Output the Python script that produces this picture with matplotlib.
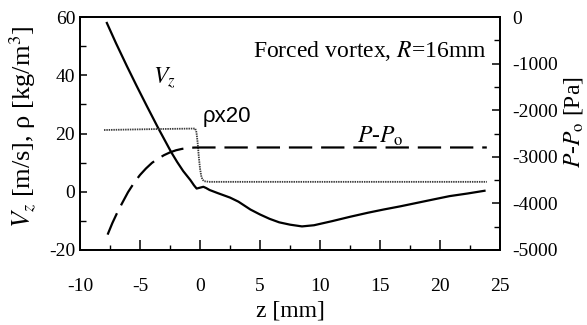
import matplotlib
matplotlib.use("Agg")
import matplotlib.pyplot as plt
from matplotlib.ticker import MultipleLocator

plt.rcParams['font.family'] = ['Liberation Serif', 'DejaVu Serif']
plt.rcParams['mathtext.fontset'] = 'stix'
plt.rcParams['axes.unicode_minus'] = False

# ---- data ----
z_vz = [-7.8, -7.0, -6.1, -5.3, -4.44, -3.5, -2.4, -1.9, -1.4, -0.8, -0.5, -0.28,
        0.0, 0.28, 0.5, 0.8, 1.5, 2.5, 3.2, 4.2, 5.0, 5.8, 6.6, 7.5, 8.5, 9.5,
        11.0, 12.5, 14.0, 15.3, 16.7, 18.1, 19.5, 20.8, 22.3, 23.8]
vz = [58.3, 51.0, 43.2, 36.5, 29.5, 22.0, 13.6, 10.2, 7.1, 4.0, 2.2, 1.1,
      1.4, 1.7, 1.3, 0.6, -0.5, -2.0, -3.4, -6.1, -7.8, -9.3, -10.5, -11.3, -11.9, -11.5,
      -10.1, -8.6, -7.2, -6.1, -5.0, -3.8, -2.6, -1.5, -0.6, 0.4]

z_rho = [-8.0, -4.0, -0.4, -0.3, -0.2, -0.1, 0.0, 0.1, 0.2, 0.35, 0.8, 23.9]
rho20 = [21.2, 21.5, 21.7, 20.5, 17.0, 12.0, 8.0, 5.5, 4.2, 3.6, 3.4, 3.4]

z_p = [-7.7, -7.3, -6.9, -6.5, -6.0, -5.5, -5.0, -4.5, -4.0, -3.5, -3.0, -2.5,
       -2.0, -1.5, -1.0, -0.5, 0.0, 23.9]
p = [-4670, -4420, -4200, -4000, -3760, -3560, -3390, -3250, -3130, -3040, -2965, -2905,
     -2860, -2830, -2812, -2802, -2800, -2800]

xticks = [-10, -5, 0, 5, 10, 15, 20, 25]
yticks_left = [-20, 0, 20, 40, 60]
yticks_right = [-5000, -4000, -3000, -2000, -1000, 0]

fig = plt.figure(figsize=(5.87, 3.25), dpi=100)
ax = fig.add_axes([80/587, 1-250/325, 420/587, 233/325])
ax2 = ax.twinx()

ax.plot(z_vz, vz, color='black', lw=1.6, solid_capstyle='butt')
ax.plot(z_rho, rho20, color='#3a3a3a', lw=1.3, linestyle=(0, (0.8, 0.5)))
ax2.plot(z_p, p, color='black', lw=1.6, linestyle=(0, (10.5, 4.0)))

ax.set_xlim(-10, 25)
ax.set_ylim(-20, 60)
ax2.set_ylim(-5000, 0)
ax.set_xticks(xticks)
ax.set_yticks(yticks_left)
ax2.set_yticks(yticks_right)
ax.xaxis.set_minor_locator(MultipleLocator(2.5))
ax.yaxis.set_minor_locator(MultipleLocator(10))
ax2.yaxis.set_minor_locator(MultipleLocator(500))

for a in (ax, ax2):
    for s in a.spines.values():
        s.set_linewidth(1.3)
ax.tick_params(axis='x', which='both', direction='in', top=False, labelsize=14, pad=20)
ax.tick_params(axis='x', which='major', length=7, width=1.1)
ax.tick_params(axis='x', which='minor', length=3.5, width=1.0)
ax.tick_params(axis='y', which='both', direction='in', right=False, labelsize=14, pad=3.5)
ax.tick_params(axis='y', which='major', length=5, width=1.1)
ax.tick_params(axis='y', which='minor', length=4, width=1.0)
ax2.tick_params(axis='y', which='both', direction='in', labelsize=14, pad=9)
ax2.tick_params(axis='y', which='major', length=6, width=1.1)
ax2.tick_params(axis='y', which='minor', length=4, width=1.0)

ax.set_xlabel('z [mm]', fontsize=17, labelpad=4)
ax.set_ylabel(r'$V_z$ [m/s], ρ [kg/m$^3$]', fontsize=19)
ax.yaxis.set_label_coords(-0.10, 0.53)
ax2.set_ylabel(r'$P$-$P_{\rm o}$ [Pa]', fontsize=17, rotation=90)
ax2.yaxis.set_label_coords(1.148, 0.55)

ax.text(4.42, 46.3, r'Forced vortex, $R$=16mm', fontsize=17, ha='left', va='baseline')
ax.text(-3.92, 37.0, r'$V_z$', fontsize=17, ha='left', va='baseline')
ax.text(0.25, 23.9, 'ρx20', fontsize=16, ha='left', va='baseline',
        family=['Liberation Sans', 'DejaVu Sans'])
ax2.text(13.06, -2694, r'$P$-$P_{\rm o}$', fontsize=17, ha='left', va='baseline')

fig.savefig('out.png', dpi=100)
